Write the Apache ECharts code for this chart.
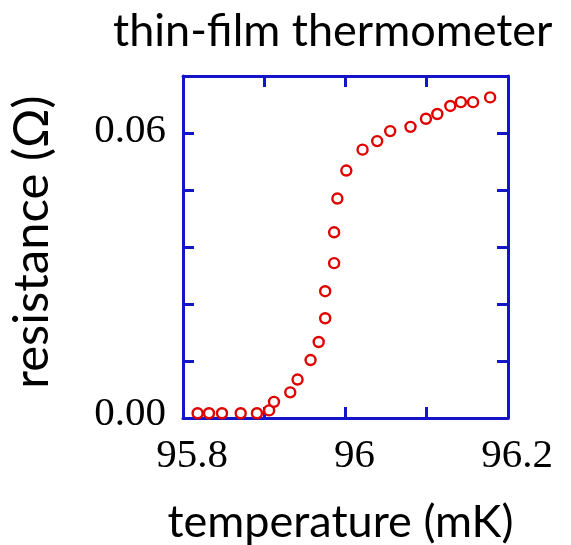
<!DOCTYPE html>
<html>
<head>
<meta charset="utf-8">
<script src="https://cdn.jsdelivr.net/npm/echarts@6/dist/echarts.min.js"></script>
<style>
  html, body { margin: 0; padding: 0; background: #fff; }
  #chart { width: 571px; height: 545px; }
</style>
</head>
<body>
<div id="chart"></div>
<script>
// temperature (mK) and resistance (ohm)
const temperature = [
  95.818, 95.832, 95.848, 95.871, 95.891, 95.906, 95.912, 95.932, 95.941,
  95.957, 95.967, 95.975, 95.975, 95.986, 95.986, 95.990, 96.001, 96.021,
  96.039, 96.055, 96.080, 96.099, 96.113, 96.129, 96.142, 96.157, 96.178
];
const resistance = [
  0.0010, 0.0010, 0.0010, 0.0010, 0.0010, 0.0016, 0.0034, 0.0054, 0.0081,
  0.0122, 0.0160, 0.0210, 0.0267, 0.0326, 0.0391, 0.0462, 0.0521, 0.0565,
  0.0583, 0.0604, 0.0613, 0.0630, 0.0640, 0.0657, 0.0665, 0.0665, 0.0675
];
const xTickLabels = ['95.8', '96', '96.2'];
const yTickLabels = ['0.00', '0.06'];

const frameColor = '#1414c8';
const points = temperature.map((t, i) => [t, resistance[i]]);

const chart = echarts.init(document.getElementById('chart'), null, { renderer: 'canvas' });

const frameAxis = {
  axisLine: { show: true, onZero: false, lineStyle: { color: frameColor, width: 3 } },
  axisTick: { show: true, inside: true, length: 11, lineStyle: { color: frameColor, width: 3 } },
  splitLine: { show: false }
};

const xLabel = (v) => {
  const s = String(Math.round(v * 10) / 10);
  return xTickLabels.includes(s) ? s : '';
};
const yLabel = (v) => {
  const s = v.toFixed(2);
  if (Math.abs(v * 100 - Math.round(v * 100)) > 1e-6 || !yTickLabels.includes(s)) return '';
  // the bottom label sits a little above its tick in the original
  return v === 0 ? '{lo|' + s + '}' : '{hi|' + s + '}';
};
const serifLabel = { color: '#000', fontFamily: 'Liberation Serif', fontSize: 41 };

chart.setOption({
  animation: false,
  title: {
    text: 'thin-film thermometer',
    left: 108,
    top: 4,
    textStyle: { fontFamily: 'Lato', fontWeight: 'normal', fontSize: 45, color: '#000' }
  },
  grid: { left: 183, right: 63, top: 76, bottom: 127, outerBoundsMode: 'none', containLabel: false },
  xAxis: [
    Object.assign({}, frameAxis, {
      type: 'value', position: 'bottom', min: 95.8, max: 96.2, interval: 0.1,
      name: 'temperature (mK)', nameLocation: 'middle', nameGap: 82,
      nameTextStyle: { fontFamily: 'Lato', fontSize: 45, color: '#000', padding: [0, 10, 0, 0] },
      axisLabel: Object.assign({
        show: true, margin: 18, padding: [0, 0, 0, 18], formatter: xLabel
      }, serifLabel)
    }),
    Object.assign({}, frameAxis, {
      type: 'value', position: 'top', min: 95.8, max: 96.2, interval: 0.1,
      axisLabel: { show: false }
    })
  ],
  yAxis: [
    Object.assign({}, frameAxis, {
      type: 'value', position: 'left', min: 0, max: 0.072, interval: 0.012,
      name: 'resistance (Ω)', nameLocation: 'middle', nameGap: 126, nameRotate: 90,
      nameTextStyle: { fontFamily: 'Lato', fontSize: 49, color: '#000', padding: [0, 0, 0, 10] },
      axisLabel: Object.assign({
        show: true, margin: 17, formatter: yLabel,
        rich: {
          lo: Object.assign({ padding: [0, 0, 8, 0] }, serifLabel),
          hi: Object.assign({ padding: [0, 0, 3, 0] }, serifLabel)
        }
      }, serifLabel)
    }),
    Object.assign({}, frameAxis, {
      type: 'value', position: 'right', min: 0, max: 0.072, interval: 0.012,
      axisLabel: { show: false }
    })
  ],
  series: [{
    type: 'scatter',
    data: points,
    symbol: 'circle',
    symbolSize: 10,
    itemStyle: { color: '#fff', borderColor: '#e00000', borderWidth: 2.4, opacity: 1 },
    z: 5
  }]
});
</script>
</body>
</html>
